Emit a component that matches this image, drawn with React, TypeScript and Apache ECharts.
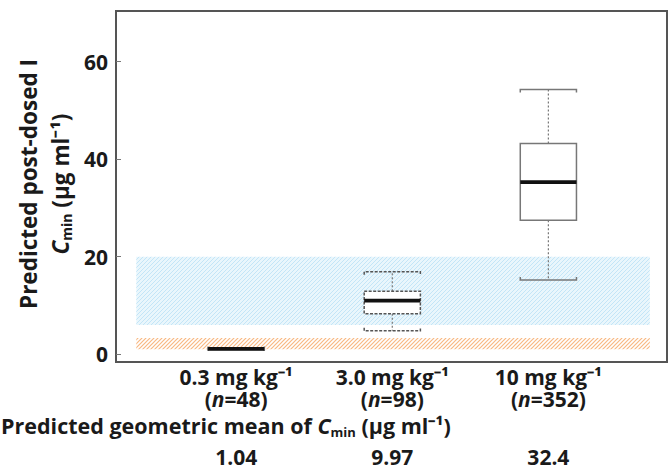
import React, { useEffect, useRef } from "react";
import * as echarts from "echarts";

// ---- data ----
const yTicks = [0, 20, 40, 60];
const doseLabels = ["0.3 mg kg⁻¹", "3.0 mg kg⁻¹", "10 mg kg⁻¹"];
const nValues = [48, 98, 352];
const geoMeans = ["1.04", "9.97", "32.4"];
const positions = [1, 2, 3];
const whiskerLow = [0.95, 4.8, 15.2];
const q1 = [1.0, 8.3, 27.5];
const median = [1.1, 11.0, 35.3];
const q3 = [1.2, 12.9, 43.2];
const whiskerHigh = [1.25, 16.9, 54.3];
const targetBand = [6, 20];
const lowBand = [1.0, 3.3];
const bandX = [0.36, 3.65];

const FONT = "'Open Sans'";
const FS = 21;
const FSV = 22.5;
const INK = "#1a1a1a";

function hatch(color: string, size = 4, lw = 1) {
  const c = document.createElement("canvas");
  c.width = size;
  c.height = size;
  const ctx = c.getContext("2d")!;
  ctx.strokeStyle = color;
  ctx.lineWidth = lw;
  ctx.beginPath();
  ctx.moveTo(0, size);
  ctx.lineTo(size, 0);
  ctx.moveTo(-1, 1);
  ctx.lineTo(1, -1);
  ctx.moveTo(size - 1, size + 1);
  ctx.lineTo(size + 1, size - 1);
  ctx.stroke();
  return c;
}

export default function App() {
  const ref = useRef<HTMLDivElement>(null);
  useEffect(() => {
    const chart = echarts.init(ref.current!, null, { renderer: "svg" });
    const boxData = positions.map((p, i) => [p, whiskerLow[i], q1[i], median[i], q3[i], whiskerHigh[i]]);
    const baseText = { fontFamily: FONT, fontWeight: "bold", fontSize: FS, color: INK };
    const richTitle = (fs: number) => ({
      i: { font: `italic bold ${fs}px ${FONT}`, fill: INK, lineHeight: 26 },
      s: { font: `bold ${Math.round(fs * 0.62)}px ${FONT}`, fill: INK, verticalAlign: "bottom", lineHeight: 26 },
      t: { font: `bold ${fs}px ${FONT}`, fill: INK, lineHeight: 26 },
    });
    const hiddenAxis = {
      type: "value",
      min: 0.23,
      max: 3.76,
      position: "bottom",
      axisLine: { show: false },
      axisTick: { show: false },
      splitLine: { show: false },
    };
    chart.setOption({
      animation: false,
      backgroundColor: "#fff",
      grid: {
        left: 116,
        top: 11,
        right: 3,
        bottom: 110,
        show: true,
        borderColor: "#555",
        borderWidth: 2,
        backgroundColor: "transparent",
      },
      xAxis: [
        {
          ...hiddenAxis,
          axisLabel: {
            customValues: positions,
            margin: 5,
            ...baseText,
            lineHeight: 20,
            formatter: (v: number) => doseLabels[Math.round(v) - 1],
          },
        },
        {
          ...hiddenAxis,
          offset: 21,
          axisLabel: {
            customValues: positions,
            margin: 6,
            ...baseText,
            lineHeight: 20,
            formatter: (v: number) => `({i|n}=${nValues[Math.round(v) - 1]})`,
            rich: {
              i: { ...baseText, fontStyle: "italic", lineHeight: 20 },
            },
          },
        },
        {
          ...hiddenAxis,
          offset: 78,
          axisLabel: {
            customValues: positions,
            margin: 6,
            ...baseText,
            formatter: (v: number) => geoMeans[Math.round(v) - 1],
          },
        },
      ],
      yAxis: {
        type: "value",
        min: -1.6,
        max: 70.4,
        axisLine: { show: false },
        splitLine: { show: false },
        axisTick: {
          show: true,
          inside: true,
          length: 5,
          customValues: yTicks,
          lineStyle: { color: "#777", width: 1 },
        },
        axisLabel: {
          customValues: yTicks,
          margin: 8,
          ...baseText,
        },
      },
      graphic: [
        {
          type: "text",
          x: 28,
          y: 184,
          rotation: Math.PI / 2,
          style: {
            text: "Predicted post-dosed I",
            font: `bold ${FSV}px ${FONT}`,
            fill: INK,
            align: "center",
            verticalAlign: "middle",
          },
        },
        {
          type: "text",
          x: 60,
          y: 184,
          rotation: Math.PI / 2,
          style: {
            text: "{i|C}{s|min}{t| (μg ml⁻¹)}",
            align: "center",
            verticalAlign: "middle",
            fill: INK,
            font: `bold ${FSV}px ${FONT}`,
            rich: richTitle(FSV),
          },
        },
        {
          type: "text",
          x: 1,
          y: 425,
          style: {
            text: "{t|Predicted geometric mean of }{i|C}{s|min}{t| (μg ml⁻¹)}",
            align: "left",
            verticalAlign: "middle",
            fill: INK,
            font: `bold 21.5px ${FONT}`,
            rich: richTitle(21.5),
          },
        },
      ],
      series: [
        {
          type: "custom",
          xAxisIndex: 0,
          yAxisIndex: 0,
          data: boxData,
          encode: { x: 0, y: [1, 2, 3, 4, 5] },
          clip: false,
          markArea: {
            silent: true,
            data: [
              [
                {
                  xAxis: bandX[0],
                  yAxis: targetBand[0],
                  itemStyle: { color: "rgba(200, 233, 248, 0.4)" },
                },
                { xAxis: bandX[1], yAxis: targetBand[1] },
              ],
              [
                {
                  xAxis: bandX[0],
                  yAxis: targetBand[0],
                  itemStyle: { color: { image: hatch("#3aa8e6", 4, 1), repeat: "repeat" }, opacity: 0.22 },
                },
                { xAxis: bandX[1], yAxis: targetBand[1] },
              ],
              [
                {
                  xAxis: bandX[0],
                  yAxis: lowBand[0],
                  itemStyle: { color: { image: hatch("#f59a4e", 4, 1.2), repeat: "repeat" }, opacity: 0.7 },
                },
                { xAxis: bandX[1], yAxis: lowBand[1] },
              ],
            ],
          },
          renderItem: (params: any, api: any) => {
            const x = api.value(0);
            const half = 0.18;
            const lo = api.coord([x - half, api.value(1)]);
            const b1 = api.coord([x - half, api.value(2)]);
            const md = api.coord([x - half, api.value(3)]);
            const b3 = api.coord([x + half, api.value(4)]);
            const hi = api.coord([x + half, api.value(5)]);
            const cx = api.coord([x, 0])[0];
            const left = lo[0];
            const right = hi[0];
            const dashed = params.dataIndex === 1;
            const boxStroke = dashed ? "#555" : "#777";
            const dash = dashed ? [3, 1.5] : undefined;
            return {
              type: "group",
              children: [
                {
                  type: "line",
                  shape: { x1: cx, y1: b3[1], x2: cx, y2: hi[1] },
                  style: { stroke: "#777", lineWidth: 1.2, lineDash: [2, 2] },
                },
                {
                  type: "line",
                  shape: { x1: cx, y1: b1[1], x2: cx, y2: lo[1] },
                  style: { stroke: "#777", lineWidth: 1.2, lineDash: [2, 2] },
                },
                {
                  type: "polyline",
                  shape: { points: [[left, hi[1] + 3], [left, hi[1]], [right, hi[1]], [right, hi[1] + 3]] },
                  style: { stroke: boxStroke, fill: null, lineWidth: 1.5, lineDash: dash },
                },
                {
                  type: "polyline",
                  shape: { points: [[left, lo[1] - 3], [left, lo[1]], [right, lo[1]], [right, lo[1] - 3]] },
                  style: { stroke: boxStroke, fill: null, lineWidth: 1.5, lineDash: dash },
                },
                {
                  type: "rect",
                  shape: { x: left, y: b3[1], width: right - left, height: b1[1] - b3[1] },
                  style: { stroke: boxStroke, fill: "#fff", lineWidth: 1.5, lineDash: dash },
                },
                {
                  type: "line",
                  shape: { x1: left, y1: md[1], x2: right, y2: md[1] },
                  style: { stroke: "#111", lineWidth: 3.8 },
                },
              ],
            };
          },
          z: 3,
        },
      ],
    });
    return () => chart.dispose();
  }, []);
  return <div ref={ref} style={{ width: 670, height: 472, position: "absolute", left: 0, top: 0 }} />;
}
